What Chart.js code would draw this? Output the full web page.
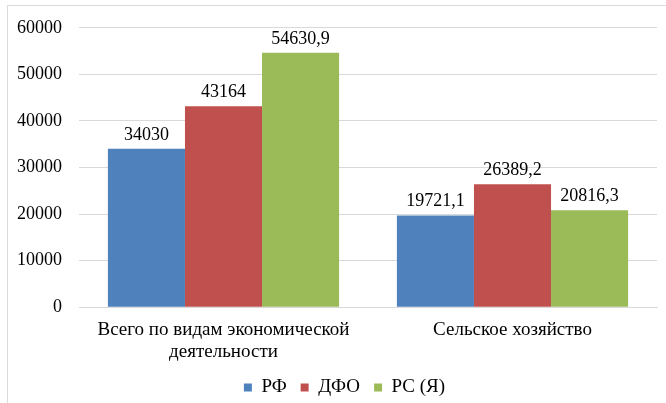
<!DOCTYPE html>
<html>
<head>
<meta charset="utf-8">
<script src="https://cdn.jsdelivr.net/npm/chart.js@4"></script>
<style>
  html, body { margin: 0; padding: 0; background: #fff; }
  #wrap { position: relative; width: 666px; height: 403px; }
</style>
</head>
<body>
<div id="wrap"><canvas id="myChart" width="666" height="403"></canvas></div>
<script>
const categories = [["Всего по видам экономической", "деятельности"], "Сельское хозяйство"];
const seriesNames = ["РФ", "ДФО", "РС (Я)"];
const rfValues = [34030, 19721.1];
const dfoValues = [43164, 26389.2];
const rsValues = [54630.9, 20816.3];
const yTicks = [0, 10000, 20000, 30000, 40000, 50000, 60000];

const colors = ['#4F81BD', '#C0504D', '#9BBB59'];
const fontFamily = '"Liberation Serif"';

// value labels above bars, comma as decimal separator
const barLabels = {
    id: 'barLabels',
    afterDatasetsDraw(chart) {
        const ctx = chart.ctx;
        ctx.save();
        ctx.font = '18px ' + fontFamily;
        ctx.fillStyle = '#000';
        ctx.textAlign = 'center';
        ctx.textBaseline = 'bottom';
        chart.data.datasets.forEach(function (ds, i) {
            chart.getDatasetMeta(i).data.forEach(function (bar, j) {
                const txt = String(ds.data[j]).replace('.', ',');
                ctx.fillText(txt, bar.x, bar.y - 5);
            });
        });
        ctx.restore();
    }
};

// light frame round the chart, legend nudged like the original
const frame = {
    id: 'frame',
    afterLayout(chart) {
        if (chart.legend) {
            chart.legend.left += 12;
            chart.legend.right += 12;
            chart.legend.top -= 11;
            chart.legend.bottom -= 11;
        }
    },
    beforeDraw(chart) {
        const ctx = chart.ctx;
        ctx.save();
        ctx.strokeStyle = '#d9d9d9';
        ctx.lineWidth = 1;
        ctx.strokeRect(7.5, 5.5, 700, 420);
        ctx.restore();
    }
};

const data = {
    labels: categories,
    datasets: [
        { label: seriesNames[0], data: rfValues, backgroundColor: colors[0] },
        { label: seriesNames[1], data: dfoValues, backgroundColor: colors[1] },
        { label: seriesNames[2], data: rsValues, backgroundColor: colors[2] }
    ]
};

const config = {
    type: 'bar',
    data: data,
    plugins: [frame, barLabels],
    options: {
        responsive: false,
        animation: false,
        layout: {
            padding: { left: 8, right: 9, top: 23, bottom: -15 }
        },
        datasets: {
            bar: { categoryPercentage: 0.8, barPercentage: 1.0 }
        },
        plugins: {
            tooltip: { enabled: false },
            legend: {
                position: 'bottom',
                labels: {
                    boxWidth: 8,
                    boxHeight: 8,
                    padding: 14,
                    color: '#000',
                    font: { family: fontFamily, size: 19 }
                }
            }
        },
        scales: {
            x: {
                grid: { display: false, drawTicks: false },
                border: { display: true, color: '#d9d9d9' },
                ticks: {
                    color: '#000',
                    padding: 12,
                    maxRotation: 0,
                    font: { family: fontFamily, size: 19, lineHeight: 1.15 }
                }
            },
            y: {
                min: 0,
                max: 60000,
                afterFit: function (scale) { scale.width = 71; },
                afterBuildTicks: function (scale) {
                    scale.ticks = yTicks.map(function (v) { return { value: v }; });
                },
                grid: { color: '#d9d9d9', drawTicks: false },
                border: { display: false },
                ticks: {
                    color: '#000',
                    padding: 17,
                    font: { family: fontFamily, size: 18 },
                    callback: function (v) { return String(v); }
                }
            }
        }
    }
};

const myChart = new Chart(document.getElementById('myChart'), config);
</script>
</body>
</html>
